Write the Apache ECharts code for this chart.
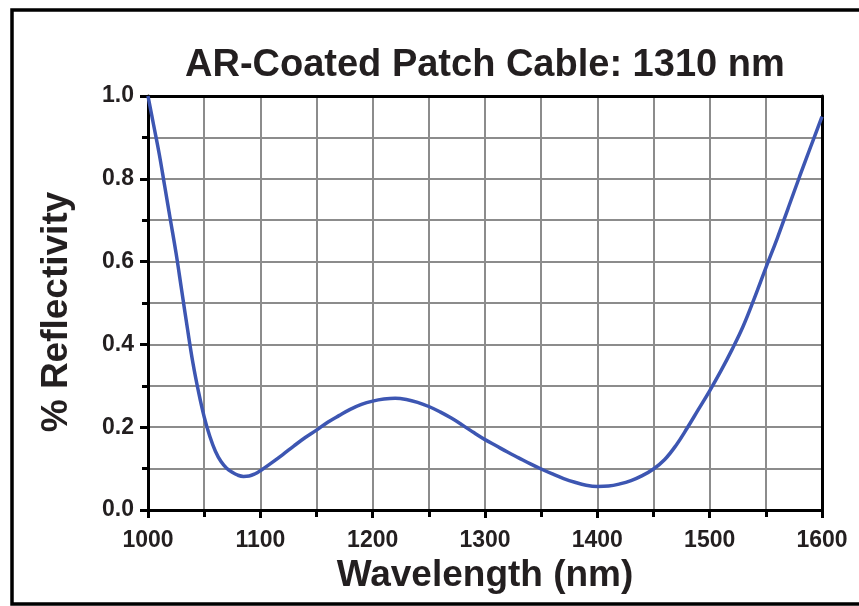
<!DOCTYPE html>
<html>
<head>
<meta charset="utf-8">
<style>
  html, body { margin: 0; padding: 0; background: #fff; }
  #chart { width: 859px; height: 606px; }
</style>
<script src="https://cdn.jsdelivr.net/npm/echarts@6/dist/echarts.min.js"></script>
</head>
<body>
<div id="chart"></div>
<script>
// Reflectivity spectrum of an AR-coated patch cable (centred on 1310 nm)
const wavelengths = [
  1000, 1005, 1010, 1015, 1020, 1025, 1030, 1035, 1040, 1045,
  1050, 1055, 1060, 1065, 1070, 1075, 1080, 1085, 1090, 1095,
  1100, 1110, 1120, 1130, 1140, 1150, 1160, 1170, 1180, 1190,
  1200, 1210, 1220, 1230, 1240, 1250, 1260, 1270, 1280, 1290,
  1300, 1310, 1320, 1330, 1340, 1350, 1360, 1370, 1380, 1390,
  1400, 1410, 1420, 1430, 1440, 1450, 1460, 1470, 1480, 1490,
  1500, 1510, 1520, 1530, 1540, 1550, 1560, 1570, 1580, 1590, 1600
];
const reflectivity = [
  1.00, 0.93, 0.86, 0.78, 0.70, 0.62, 0.53, 0.44, 0.355, 0.285,
  0.225, 0.178, 0.142, 0.117, 0.101, 0.091, 0.084, 0.081, 0.082, 0.087,
  0.095, 0.114, 0.134, 0.155, 0.175, 0.193, 0.212, 0.228, 0.243, 0.255,
  0.263, 0.268, 0.270, 0.267, 0.260, 0.250, 0.237, 0.222, 0.205, 0.187,
  0.170, 0.155, 0.140, 0.126, 0.112, 0.099, 0.087, 0.076, 0.067, 0.060,
  0.057, 0.058, 0.063, 0.071, 0.083, 0.099, 0.122, 0.156, 0.198, 0.243,
  0.288, 0.336, 0.388, 0.445, 0.513, 0.585, 0.655, 0.730, 0.805, 0.878, 0.950
];
const xTicks = { min: 1000, max: 1600, step: 100 };
const yTicks = { min: 0, max: 1, step: 0.2 };

const points = wavelengths.map((w, i) => [w, reflectivity[i]]);

const FONT = '"Liberation Sans", Arial, Helvetica, sans-serif';
const INK = '#231f20';
const gridLine = { show: true, lineStyle: { color: '#8c8c8c', width: 2 } };
const frameLine = { show: true, onZero: false, lineStyle: { color: '#000', width: 3 } };

const chart = echarts.init(document.getElementById('chart'), null, { renderer: 'canvas' });
chart.setOption({
  backgroundColor: '#ffffff',
  animation: false,
  title: {
    text: 'AR-Coated Patch Cable: 1310 nm',
    left: 185,
    top: 47,
    padding: 0,
    textStyle: { fontFamily: FONT, fontWeight: 'bold', fontSize: 38, color: INK }
  },
  grid: { left: 148, right: 37, top: 96, bottom: 96, containLabel: false },
  xAxis: [{
    type: 'value',
    min: xTicks.min, max: xTicks.max, interval: xTicks.step,
    name: 'Wavelength (nm)',
    nameLocation: 'middle',
    nameGap: 47,
    nameTextStyle: { fontFamily: FONT, fontWeight: 'bold', fontSize: 37, color: INK },
    axisLine: frameLine,
    axisTick: { show: true, length: 8, lineStyle: { color: '#000', width: 3 } },
    minorTick: { show: true, splitNumber: 2, length: 7, lineStyle: { color: '#000', width: 3 } },
    axisLabel: {
      margin: 19, fontFamily: FONT, fontWeight: 'bold', fontSize: 23, color: INK,
      formatter: v => String(v)
    },
    splitLine: Object.assign({ showMinLine: false, showMaxLine: false }, gridLine),
    minorSplitLine: gridLine
  }, {
    type: 'value', position: 'top',
    min: xTicks.min, max: xTicks.max, interval: xTicks.step,
    axisLine: frameLine,
    axisTick: { show: false }, axisLabel: { show: false }, splitLine: { show: false }
  }],
  yAxis: [{
    type: 'value',
    min: yTicks.min, max: yTicks.max, interval: yTicks.step,
    name: '% Reflectivity',
    nameLocation: 'middle',
    nameGap: 73,
    nameTextStyle: {
      fontFamily: FONT, fontWeight: 'bold', fontSize: 37, color: INK,
      padding: [0, 18, 0, 0]
    },
    axisLine: frameLine,
    axisTick: { show: true, length: 8, lineStyle: { color: '#000', width: 3 } },
    minorTick: { show: true, splitNumber: 2, length: 6, lineStyle: { color: '#000', width: 3 } },
    axisLabel: {
      margin: 14, fontFamily: FONT, fontWeight: 'bold', fontSize: 23, color: INK,
      formatter: v => v.toFixed(1)
    },
    splitLine: Object.assign({ showMinLine: false, showMaxLine: false }, gridLine),
    minorSplitLine: gridLine
  }, {
    type: 'value', position: 'right',
    min: yTicks.min, max: yTicks.max, interval: yTicks.step,
    axisLine: frameLine,
    axisTick: { show: false }, axisLabel: { show: false }, splitLine: { show: false }
  }],
  series: [{
    type: 'line',
    data: points,
    smooth: 0.4,
    showSymbol: false,
    clip: true,
    lineStyle: { color: '#3d56b2', width: 3.5 },
    z: 5
  }],
  graphic: [{
    type: 'rect',
    shape: { x: 12, y: 10, width: 880, height: 594 },
    style: { fill: 'none', stroke: '#000', lineWidth: 3.5 },
    silent: true
  }]
});
</script>
</body>
</html>
